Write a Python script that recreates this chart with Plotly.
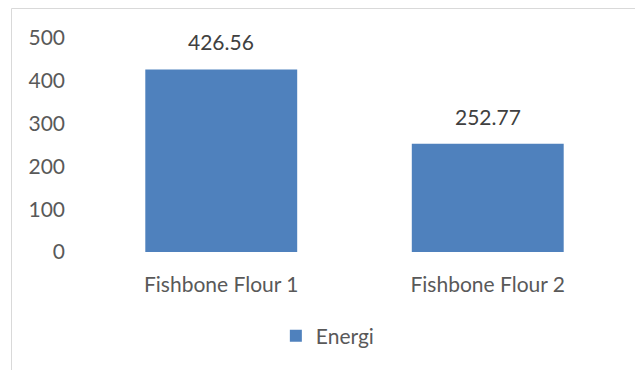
import plotly.graph_objects as go

categories = ["Fishbone Flour 1", "Fishbone Flour 2"]
energi = [426.56, 252.77]
value_labels = ["426.56", "252.77"]
tick_vals = [0, 100, 200, 300, 400, 500]

W, H = 635, 370
L, R, T, B = 88, 14, 38, 118
pw, ph = W - L - R, H - T - B
FONT = "Lato, Carlito, sans-serif"
FS = 21

fig = go.Figure()
fig.add_trace(go.Bar(
    x=categories, y=energi, name="Energi",
    marker=dict(color="#4f81bd", line=dict(width=0)),
))
for c, v, t in zip(categories, energi, value_labels):
    fig.add_annotation(x=c, y=v, text=t, showarrow=False, yanchor="bottom",
                       yshift=13, font=dict(color="#404040", size=FS, family=FONT))

fig.update_layout(
    width=W, height=H,
    margin=dict(l=L, r=R, t=T, b=B, pad=0, autoexpand=False),
    paper_bgcolor="white", plot_bgcolor="white",
    bargap=0.43,
    font=dict(family=FONT, color="#595959", size=FS),
    showlegend=True,
    legend=dict(orientation="h", x=0.45, xanchor="center", y=-(336 - 252) / ph, yanchor="middle",
                font=dict(size=FS, color="#595959"), itemwidth=30,
                bgcolor="rgba(0,0,0,0)"),
    xaxis=dict(showline=False, showgrid=False, ticks="", tickfont=dict(size=FS, color="#595959"),
               ticklabelstandoff=18),
    yaxis=dict(range=[0, 500], tickvals=tick_vals, showgrid=False, zeroline=False,
               showline=False, ticks="", tickfont=dict(size=FS, color="#595959"),
               ticklabelstandoff=22),
    shapes=[dict(type="rect", xref="paper", yref="paper",
                 x0=(11.5 - L) / pw, x1=(W + 5 - L) / pw,
                 y0=-(H + 5 - T - ph) / ph, y1=(T + ph - 8.5) / ph,
                 line=dict(color="#d9d9d9", width=1), layer="below")],
)

fig.write_html("out.html")
